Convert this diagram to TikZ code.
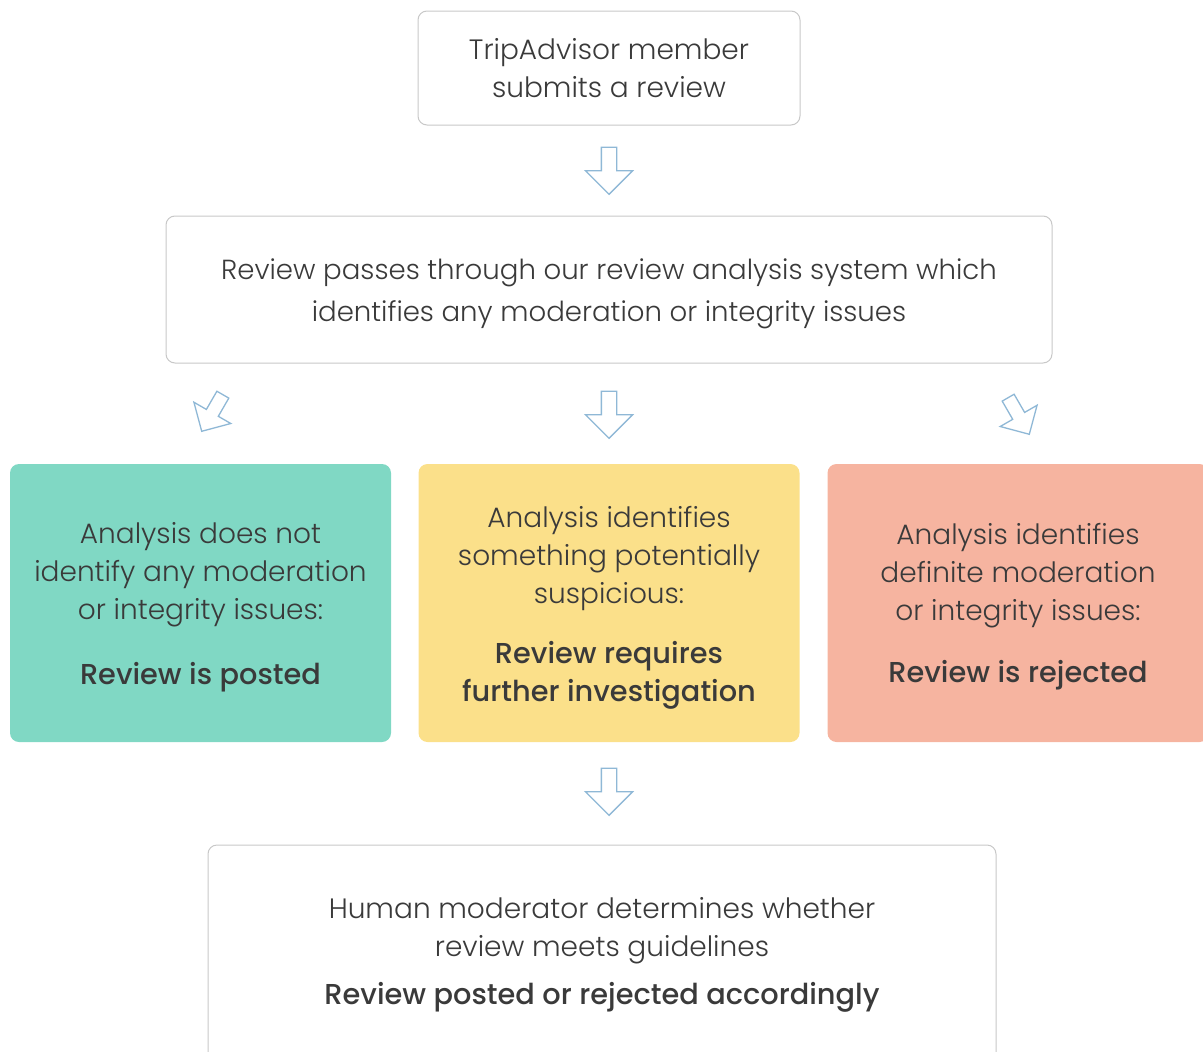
\documentclass[tikz,border=0pt]{standalone}
\usepackage{fontspec}
\setmainfont{Poppins}[UprightFont={* Light}, BoldFont={* Medium}]
\usetikzlibrary{shapes.arrows}
\definecolor{textgray}{RGB}{58,58,58}
\definecolor{framegray}{RGB}{200,200,200}
\definecolor{arrowblue}{RGB}{143,184,214}
\definecolor{postgreen}{RGB}{128,216,196}
\definecolor{checkyellow}{RGB}{251,224,138}
\definecolor{rejectred}{RGB}{246,180,160}
\newcommand{\verdict}[1]{{\fontsize{28.8}{38}\selectfont\bfseries #1}}
\newcommand{\lowerfirst}[1][29pt]{\rule{0pt}{#1}}
\begin{document}
\begin{tikzpicture}[
  x=1pt, y=-1pt,
  every node/.style={text=textgray},
  whitebox/.style={rectangle, rounded corners=9pt, draw=framegray, line width=1pt, fill=white, align=center, font=\fontsize{28}{37.5}\selectfont},
  colorbox/.style={rectangle, rounded corners=9pt, minimum width=381pt, minimum height=278pt, align=center, font=\fontsize{28}{38}\selectfont},
  hollow/.style={single arrow, draw=arrowblue, line width=1.3pt, fill=white, minimum height=47pt, inner xsep=0pt, inner ysep=7pt, single arrow head extend=16pt, single arrow tip angle=90, rotate=-90}
]
\useasboundingbox (0,0) rectangle (1203,1052);
\clip (0,0) rectangle (1203,1052);

% Top box
\node[whitebox, minimum width=382pt, minimum height=114pt] (submit) at (609,68) {TripAdvisor member\\submits a review};

% Analysis system
\node[whitebox, minimum width=886pt, minimum height=147pt, font=\fontsize{27.6}{42}\selectfont] (system) at (609,289.5) {\lowerfirst[28.5pt]Review passes through our review analysis system which\\identifies any moderation or integrity issues};

% Three outcomes
\node[colorbox, fill=postgreen] (posted) at (200.5,603) {\lowerfirst Analysis does not\\identify any moderation\\or integrity issues:\\[27pt]\verdict{Review is posted}};
\node[colorbox, fill=checkyellow] (suspect) at (609,603) {\lowerfirst[31pt]Analysis identifies\\something potentially\\suspicious:\\[22pt]\verdict{Review requires}\\\verdict{further investigation}};
\node[colorbox, fill=rejectred] (rejected) at (1018,603) {\lowerfirst Analysis identifies\\definite moderation\\or integrity issues:\\[24pt]\verdict{Review is rejected}};

% Human moderator
\node[whitebox, minimum width=788pt, minimum height=220pt] (human) at (602,955) {Human moderator determines whether\\review meets guidelines\\[11pt]\verdict{Review posted or rejected accordingly}};

% Arrows
\node[hollow] (a1) at (609,167) {};
\node[hollow] (a2) at (609,411) {};
\node[hollow, rotate=-30, scale=0.9] (a3) at (214,410) {};
\node[hollow, rotate=30, scale=0.9] (a4) at (1017,413) {};
\node[hollow] (a5) at (609,788) {};

\end{tikzpicture}
\end{document}
